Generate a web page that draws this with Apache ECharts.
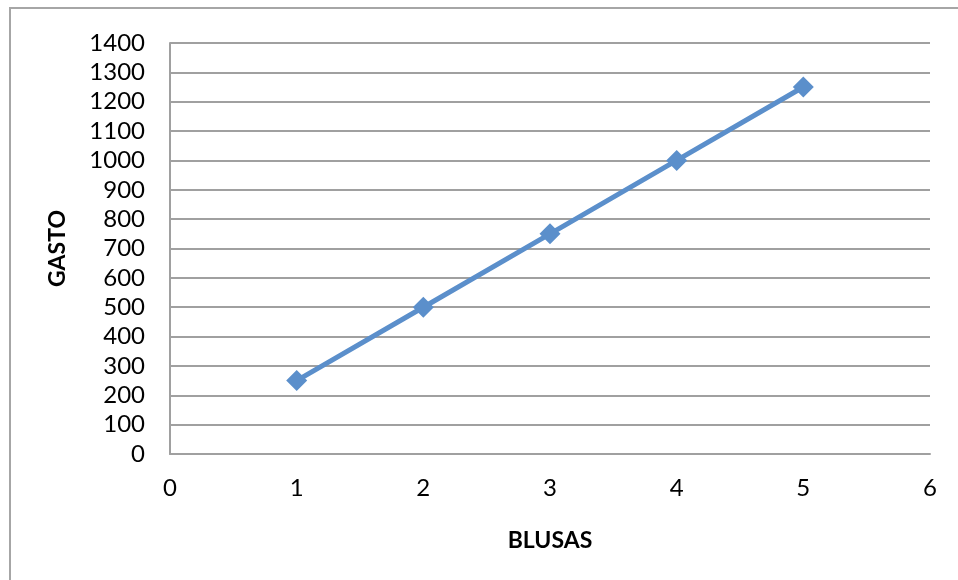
<!DOCTYPE html>
<html>
<head>
<meta charset="utf-8">
<script src="https://cdn.jsdelivr.net/npm/echarts@6/dist/echarts.min.js"></script>
<style>
  html, body { margin: 0; padding: 0; background: #fff; }
  #frame { position: absolute; left: 9px; top: 7px; width: 960px; height: 600px;
           border-left: 2px solid #a6a6a6; border-top: 2px solid #a6a6a6; }
  #chart { position: absolute; left: 0; top: 0; width: 958px; height: 580px; }
</style>
</head>
<body>
<div id="frame"></div>
<div id="chart"></div>
<script>
// Number of blouses and the corresponding spending
const blusas = [1, 2, 3, 4, 5];
const gasto = [250, 500, 750, 1000, 1250];

const xTitle = 'BLUSAS';
const yTitle = 'GASTO';

const FONT = 'Lato, "Liberation Sans", sans-serif';
const points = blusas.map((b, i) => [b, gasto[i]]);

const chart = echarts.init(document.getElementById('chart'), null, { renderer: 'canvas' });
chart.setOption({
  animation: false,
  grid: { left: 170, right: 28, top: 43, bottom: 126, containLabel: false },
  xAxis: {
    type: 'value', min: 0, max: 6, interval: 1,
    name: xTitle, nameLocation: 'middle', nameGap: 75,
    nameTextStyle: { fontFamily: FONT, fontWeight: 'bold', fontSize: 23, color: '#000' },
    axisLine: { show: true, lineStyle: { color: '#a0a0a0', width: 2 } },
    axisTick: { show: false },
    splitLine: { show: false },
    axisLabel: { fontFamily: FONT, fontSize: 24, color: '#000', margin: 22, formatter: v => String(v) }
  },
  yAxis: {
    type: 'value', min: 0, max: 1400, interval: 100,
    name: yTitle, nameLocation: 'middle', nameGap: 101, nameRotate: 90,
    nameTextStyle: { fontFamily: FONT, fontWeight: 'bold', fontSize: 23, color: '#000' },
    axisLine: { show: true, lineStyle: { color: '#a0a0a0', width: 2 } },
    axisTick: { show: false },
    splitLine: { show: true, lineStyle: { color: '#a0a0a0', width: 2 } },
    axisLabel: { fontFamily: FONT, fontSize: 24, color: '#000', margin: 25, formatter: v => String(v) }
  },
  series: [{
    type: 'line',
    data: points,
    symbol: 'diamond',
    symbolSize: 21,
    lineStyle: { color: '#5b8fcb', width: 5 },
    itemStyle: { color: '#5b8fcb' }
  }]
});
</script>
</body>
</html>
